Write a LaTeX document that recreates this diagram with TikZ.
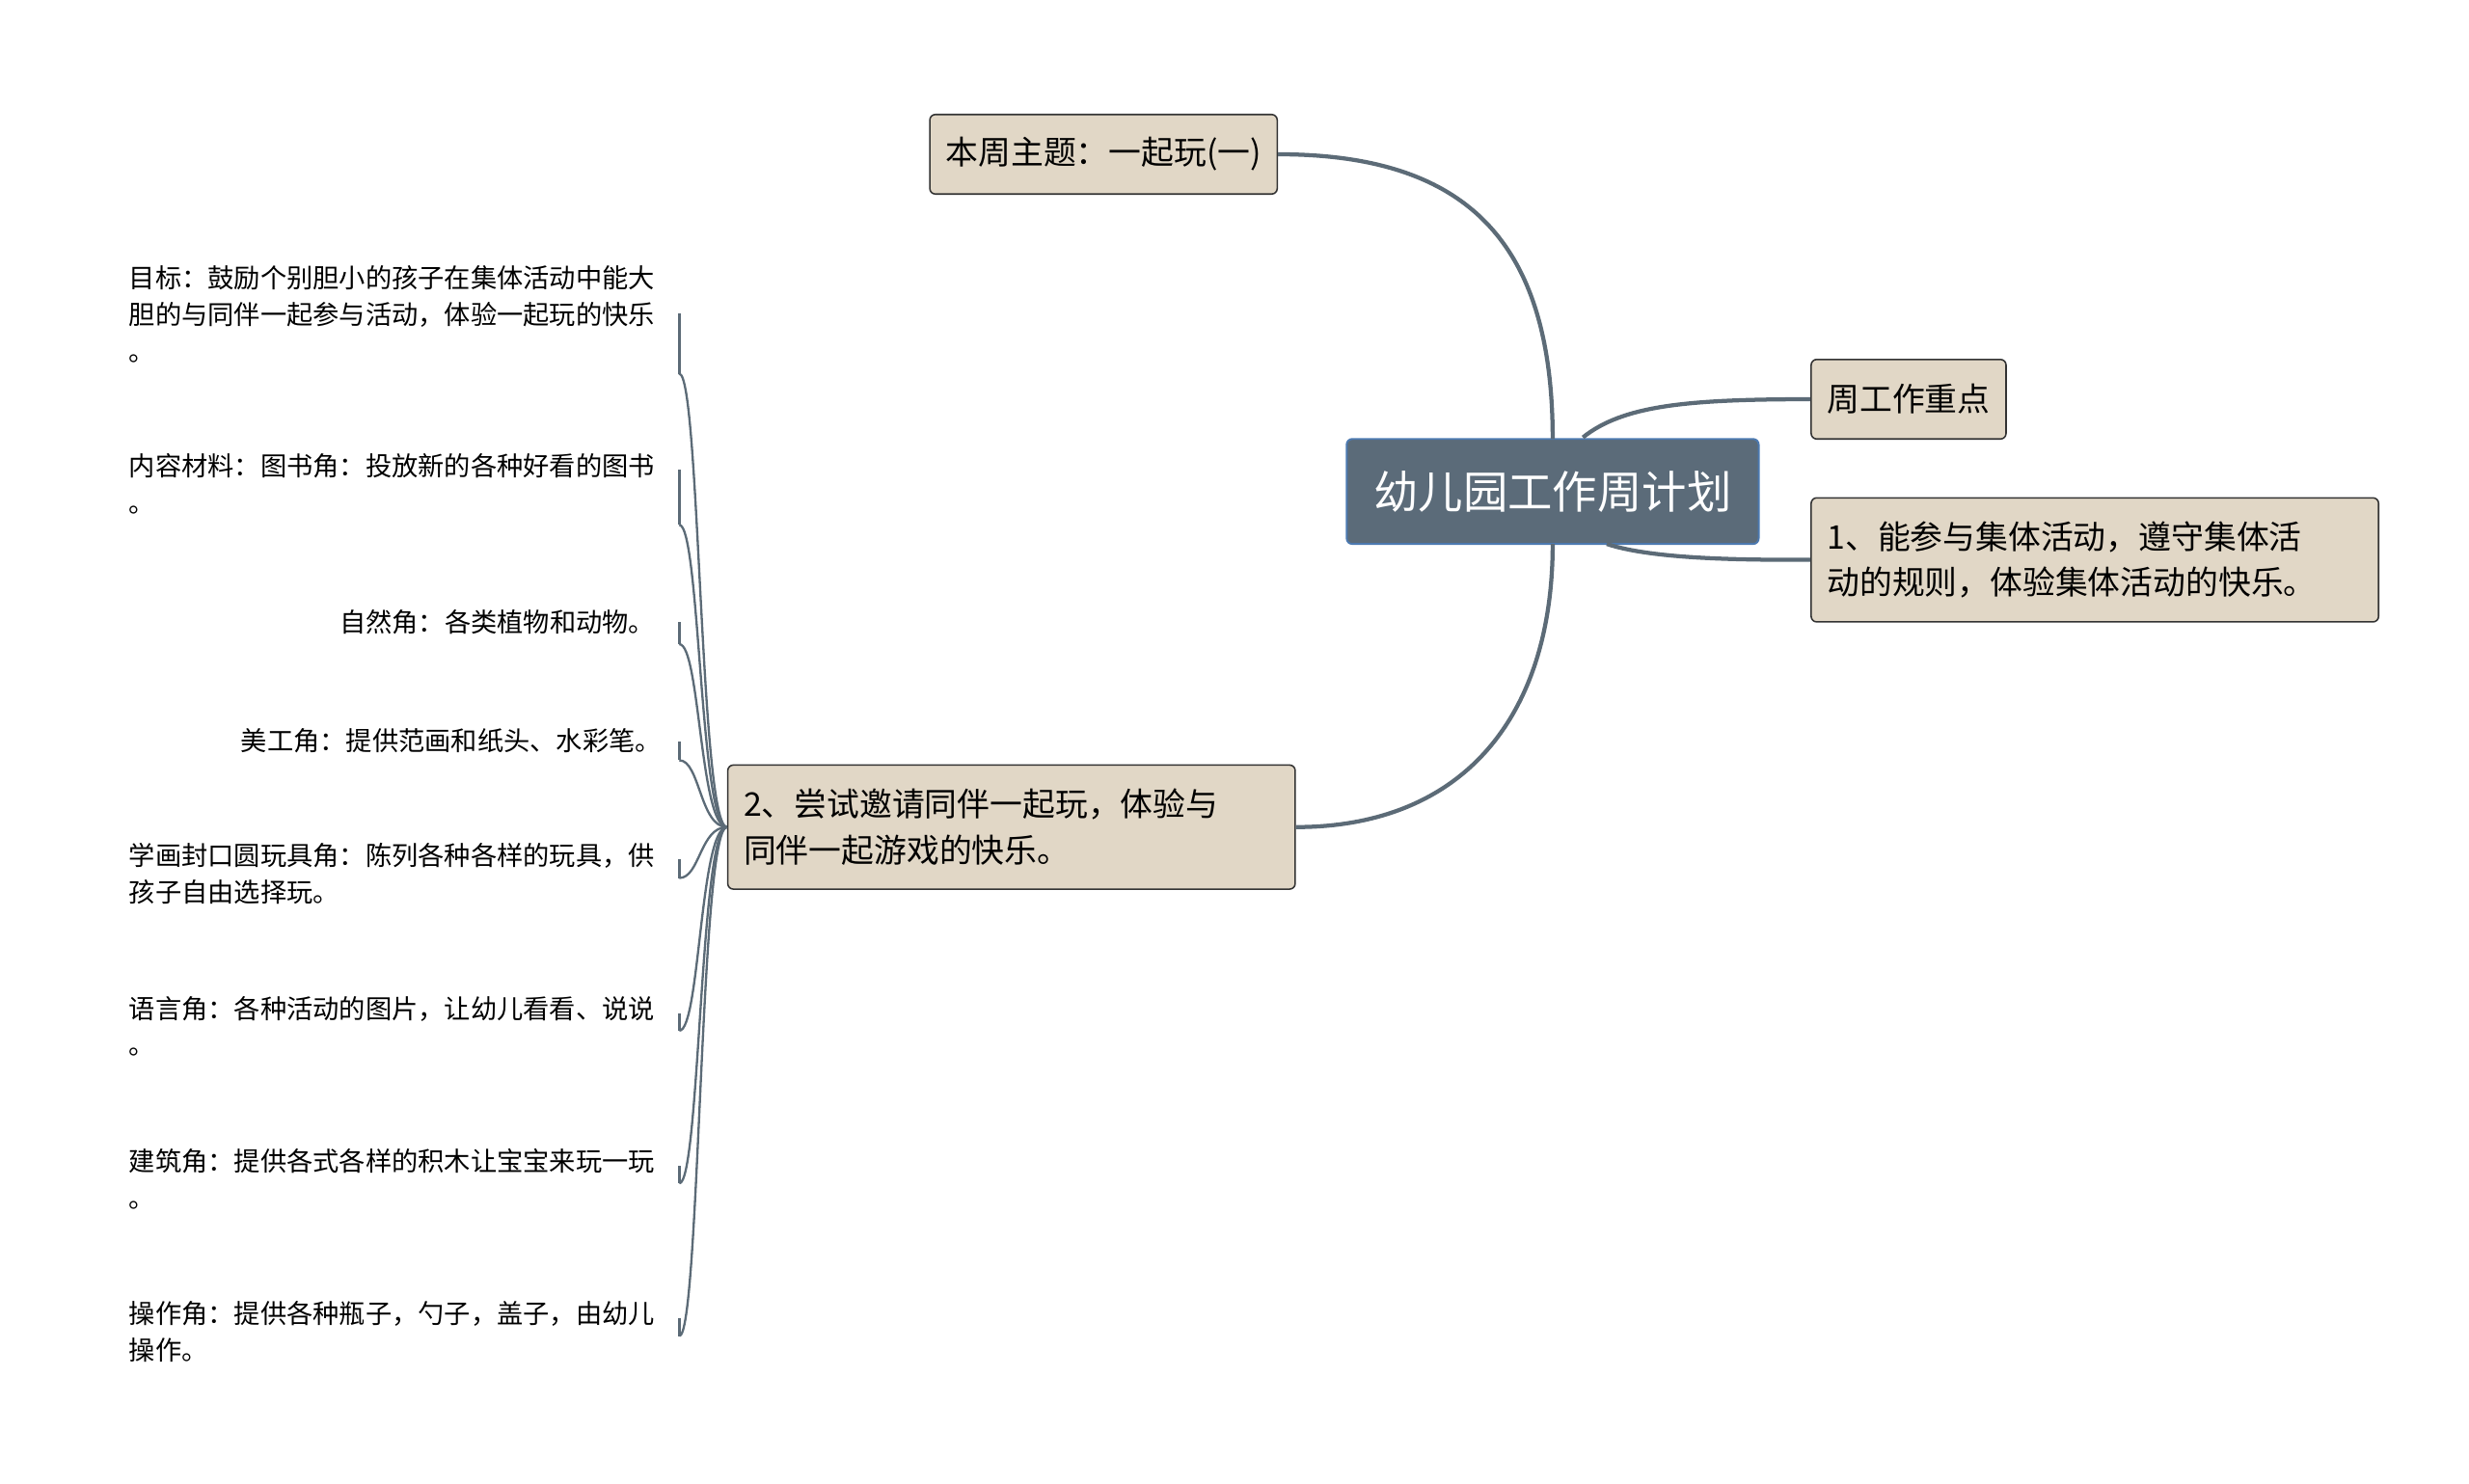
\documentclass[tikz,border=0pt]{standalone}
\usepackage{fontspec}
\setmainfont{Noto Sans CJK SC}
\definecolor{boxfill}{HTML}{E1D7C6}
\definecolor{edge}{HTML}{5C6B77}
\definecolor{centerfill}{HTML}{5B6B79}
\definecolor{centerborder}{HTML}{4C79B0}
\tikzset{
  topic/.style={draw=black!80,fill=boxfill,rounded corners=3pt,line width=0.8pt,inner xsep=0.3cm,inner ysep=9pt,font=\fontsize{17.5}{24.5}\selectfont,align=left,anchor=west},
  leaf/.style={font=\fontsize{14.1}{19.5}\selectfont,inner sep=0pt},
  conn/.style={draw=edge,line width=2.2pt},
  lconn/.style={draw=edge,line width=1.2pt}
}
\begin{document}
\begin{tikzpicture}[x=0.03cm,y=-0.03cm]
\useasboundingbox (0,0) rectangle (1552,933);
\node[draw=centerborder,fill=centerfill,rounded corners=3pt,line width=1pt,minimum width=7.77cm,minimum height=1.98cm,text=white,font=\fontsize{24}{29}\selectfont] (ctr) at (976,309) {幼儿园工作周计划};
\node[topic,minimum height=1.5cm] (t1) at (584,97) {本周主题：一起玩(一)};
\node[topic,minimum height=1.5cm] (t2) at (1138,251) {周工作重点};
\node[topic,text width=10.1cm,minimum height=2.34cm] (t3) at (1138,352) {1、能参与集体活动，遵守集体活\\动的规则，体验集体活动的快乐。};
\node[topic,text width=10.1cm,minimum height=2.34cm] (t4) at (457,520) {2、尝试邀请同伴一起玩，体验与\\同伴一起游戏的快乐。};
\draw[conn] (976,276) .. controls (976,150) and (920,97) .. (t1.east);
\draw[conn] (995,275) .. controls (1020,255) and (1060,251) .. (t2.west);
\draw[conn] (1010,342) .. controls (1040,352) and (1100,352) .. (t3.west);
\draw[conn] (976,342) .. controls (976,450) and (920,520) .. (t4.east);
\node[leaf,anchor=north west,align=left] (l1) at (81,167) {目标：鼓励个别胆小的孩子在集体活动中能大\\胆的与同伴一起参与活动，体验一起玩的快乐\\。};
\node[leaf,anchor=north west,align=left] (l2) at (81,285) {内容材料：图书角：投放新的各种好看的图书\\。};
\node[leaf,anchor=east] (l3) at (412,391) {自然角：各类植物和动物。};
\node[leaf,anchor=east] (l4) at (416,466) {美工角：提供范画和纸头、水彩笔。};
\node[leaf,anchor=north west,align=left] (l5) at (81,530) {学画封口圆玩具角：陈列各种各样的玩具，供\\孩子自由选择玩。};
\node[leaf,anchor=north west,align=left] (l6) at (81,626) {语言角：各种活动的图片，让幼儿看看、说说\\。};
\node[leaf,anchor=north west,align=left] (l7) at (81,722) {建筑角：提供各式各样的积木让宝宝来玩一玩\\。};
\node[leaf,anchor=north west,align=left] (l8) at (81,818) {操作角：提供各种瓶子，勺子，盖子，由幼儿\\操作。};
\foreach \ya/\yb in {197/235, 295/330, 391/405, 466/478, 540/552, 637/648, 733/744, 829/840}{
  \draw[lconn] (t4.west) .. controls (440,520) and (440,\yb) .. (427,\yb);
  \draw[lconn] (427,\yb) -- (427,\ya);
}
\end{tikzpicture}
\end{document}
